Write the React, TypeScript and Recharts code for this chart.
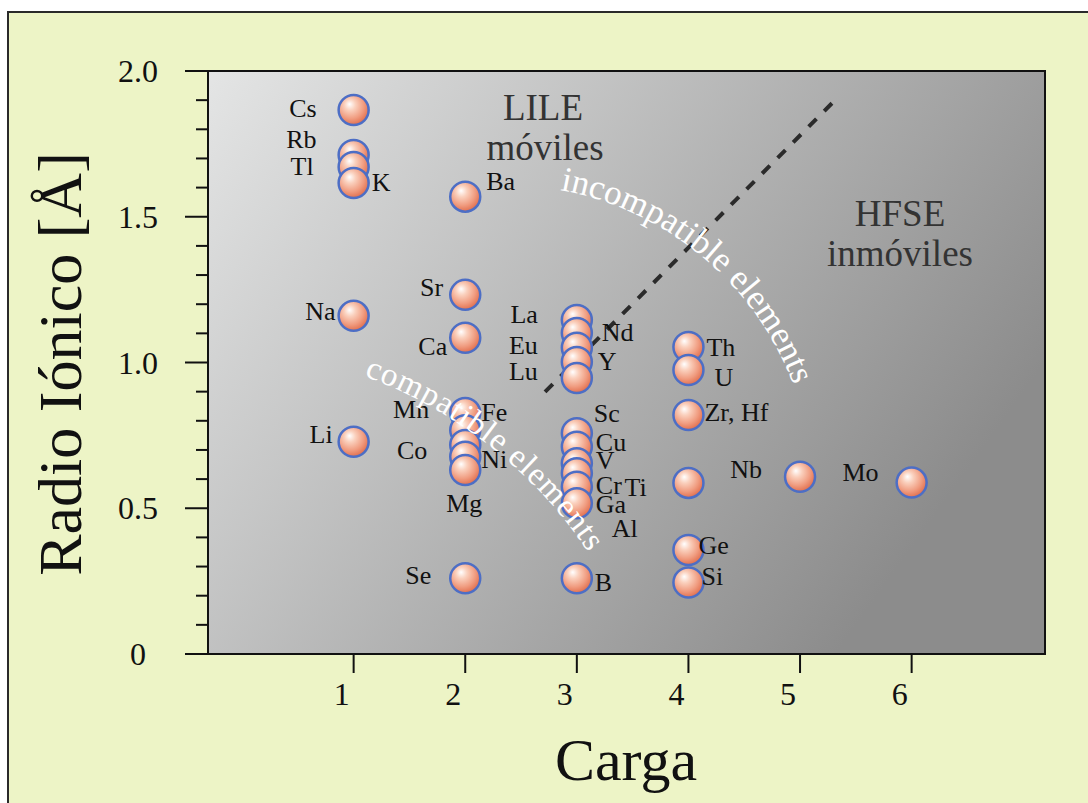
import React from "react";
import { ScatterChart, Scatter, XAxis, YAxis, ReferenceArea, ReferenceLine } from "recharts";

// element symbols, charge and ionic radius (Å)
const elements = [
  "Cs", "Rb", "Tl", "K", "Na", "Li",
  "Ba", "Sr", "Ca", "Mn", "Fe", "Co", "Ni", "Mg", "Se",
  "La", "Nd", "Eu", "Y", "Lu", "Sc", "Cu", "V", "Cr", "Ga", "Al", "B",
  "Th", "U", "Zr, Hf", "Ti", "Ge", "Si",
  "Nb", "Mo",
];
const charges = [
  1, 1, 1, 1, 1, 1,
  2, 2, 2, 2, 2, 2, 2, 2, 2,
  3, 3, 3, 3, 3, 3, 3, 3, 3, 3, 3, 3,
  4, 4, 4, 4, 4, 4,
  5, 6,
];
const radii = [
  1.866, 1.712, 1.671, 1.616, 1.16, 0.728,
  1.569, 1.232, 1.085, 0.827, 0.768, 0.717, 0.677, 0.631, 0.26,
  1.146, 1.101, 1.051, 1.002, 0.947, 0.757, 0.711, 0.654, 0.62, 0.574, 0.517, 0.26,
  1.053, 0.974, 0.82, 0.587, 0.357, 0.245,
  0.608, 0.588,
];

const xTicks = [1, 2, 3, 4, 5, 6];
const yTicks = [0, 0.1, 0.2, 0.3, 0.4, 0.5, 0.6, 0.7, 0.8, 0.9, 1, 1.1, 1.2, 1.3, 1.4, 1.5, 1.6, 1.7, 1.8, 1.9, 2];

// label placement next to each ball: [dx, dy, anchor]
const labelPos: Record<string, [number, number, string]> = {
  Cs: [-37, -2, "end"], Rb: [-37, -15, "end"], Tl: [-40, 0, "end"], K: [18, 0, "start"],
  Na: [-18, -4, "end"], Li: [-21, -7, "end"],
  Ba: [21, -15, "start"], Sr: [-22, -7, "end"], Ca: [-18, 9, "end"], Mn: [-36, -3, "end"],
  Fe: [16, -18, "start"], Co: [-38, 6, "end"], Ni: [16, 3, "start"], Mg: [-1, 33, "middle"],
  Se: [-34, -3, "end"],
  La: [-39, -5, "end"], Nd: [25, -1, "start"], Eu: [-39, -2, "end"], Y: [21, 0, "start"],
  Lu: [-39, -6, "end"], Sc: [17, -20, "start"], Cu: [19, -4, "start"], V: [19, -3, "start"],
  Cr: [19, 12, "start"], Ga: [19, 18, "start"], Al: [35, 25, "start"], B: [18, 4, "start"],
  Th: [18, 0, "start"], U: [26, 7, "start"], "Zr, Hf": [16, -2, "start"], Ti: [-64, 5, "start"],
  Ge: [10, -4, "start"], Si: [13, -6, "start"], Nb: [-38, -7, "end"], Mo: [-33, -10, "end"],
};

const data = elements.map((name, i) => ({ name, charge: charges[i], radius: radii[i] }));

const SERIF = "'Liberation Serif', 'Times New Roman', serif";
const X_DOMAIN: [number, number] = [-0.305, 7.195];

const Ball = (props: any) => {
  const { cx, cy } = props;
  if (cx == null || cy == null) return null;
  return <circle cx={cx} cy={cy} r={15} fill="url(#ballFill)" stroke="#4d6ec5" strokeWidth={2.5} />;
};

const BallLabel = (props: any) => {
  const { cx, cy, payload } = props;
  if (cx == null || cy == null) return null;
  const [dx, dy, anchor] = labelPos[payload.name] || [18, 0, "start"];
  return (
    <text x={cx + dx} y={cy + dy} textAnchor={anchor as any} dominantBaseline="central"
      fontFamily={SERIF} fontSize={26} fill="#111">
      {payload.name}
    </text>
  );
};

const YTick = (props: any) => {
  const { x, y, payload } = props;
  const v = payload.value;
  const major = Math.abs(v * 2 - Math.round(v * 2)) < 1e-6;
  return (
    <g>
      <line x1={x - (major ? 23 : 12)} y1={y} x2={x} y2={y} stroke="#111" strokeWidth={2} />
      {major && (
        <text x={x - 70} y={y} textAnchor="middle" dominantBaseline="central"
          fontFamily={SERIF} fontSize={32} fill="#111">
          {v === 0 ? "0" : v.toFixed(1)}
        </text>
      )}
    </g>
  );
};

const XTick = (props: any) => {
  const { x, y, payload } = props;
  return (
    <g>
      <line x1={x} y1={y} x2={x} y2={y + 19} stroke="#111" strokeWidth={2} />
      <text x={x - 12} y={y + 40} textAnchor="middle" dominantBaseline="central"
        fontFamily={SERIF} fontSize={32} fill="#111">
        {payload.value}
      </text>
    </g>
  );
};

// overlay: region names, curved captions and axis titles
const Annotations = () => (
  <svg width={1088} height={803} style={{ position: "absolute", left: 0, top: 0, pointerEvents: "none" }}>
    <defs>
      <path id="arcIncomp" d="M 560 190 A 310 310 0 0 1 796 392" />
      <path id="arcComp" d="M 364 376 A 460 460 0 0 1 592 558" />
    </defs>
    <text fontFamily={SERIF} fontSize={35} fill="#fff">
      <textPath href="#arcIncomp" textLength={318} lengthAdjust="spacing">incompatible elements</textPath>
    </text>
    <text fontFamily={SERIF} fontSize={33} fill="#fff">
      <textPath href="#arcComp" textLength={290} lengthAdjust="spacing">compatible elements</textPath>
    </text>
    <g fontFamily={SERIF} fontSize={37} fill="#333" textAnchor="middle">
      <text x={543} y={107} dominantBaseline="central">LILE</text>
      <text x={545} y={147} dominantBaseline="central">móviles</text>
      <text x={900} y={213} dominantBaseline="central">HFSE</text>
      <text x={900} y={253} dominantBaseline="central">inmóviles</text>
    </g>
    <text x={626} y={760} textAnchor="middle" dominantBaseline="central"
      fontFamily={SERIF} fontSize={60} fill="#111">Carga</text>
    <text x={60} y={364} textAnchor="middle" dominantBaseline="central"
      transform="rotate(-90 60 364)" fontFamily={SERIF} fontSize={62} fill="#111">
      Radio Iónico [Å]
    </text>
  </svg>
);

export default function App() {
  return (
    <div style={{ position: "fixed", left: 0, top: 0, width: 1088, height: 803, overflow: "hidden", background: "#fff" }}>
      <div style={{
        position: "absolute", left: 7, top: 11, width: 1200, height: 900,
        background: "#edf4c6", borderLeft: "2px solid #2a2a2a", borderTop: "2px solid #2a2a2a",
      }} />
      <svg width={0} height={0} style={{ position: "absolute" }}>
        <defs>
          <linearGradient id="plotBg" x1="0" y1="0" x2="1" y2="0.5">
            <stop offset="0" stopColor="#e4e5e5" />
            <stop offset="1" stopColor="#8c8c8c" />
          </linearGradient>
          <radialGradient id="ballFill" cx="0.42" cy="0.38" r="0.62" fx="0.36" fy="0.3">
            <stop offset="0" stopColor="#ffffff" />
            <stop offset="0.3" stopColor="#fad0bd" />
            <stop offset="0.7" stopColor="#f09c80" />
            <stop offset="1" stopColor="#e2704f" />
          </radialGradient>
        </defs>
      </svg>
      <div style={{ position: "absolute", left: 0, top: 0 }}>
        <ScatterChart width={1088} height={803} margin={{ top: 71, right: 43, bottom: 0, left: 0 }}>
          <ReferenceArea x1={X_DOMAIN[0]} x2={X_DOMAIN[1]} y1={0} y2={2}
            fill="url(#plotBg)" fillOpacity={1} stroke="#111" strokeWidth={2} />
          <XAxis type="number" dataKey="charge" domain={X_DOMAIN} allowDataOverflow ticks={xTicks}
            height={149} axisLine={false} tickLine={false} tickSize={0} tickMargin={0}
            tick={<XTick />} interval={0} />
          <YAxis type="number" dataKey="radius" domain={[0, 2]} allowDataOverflow ticks={yTicks}
            width={208} axisLine={false} tickLine={false} tickSize={0} tickMargin={0}
            tick={<YTick />} interval={0} />
          <ReferenceLine segment={[{ x: 2.715, y: 0.899 }, { x: 5.332, y: 1.907 }]}
            stroke="#2b2b2b" strokeWidth={4} strokeDasharray="11 11" />
          <Scatter data={data} shape={<Ball />} isAnimationActive={false} />
          <Scatter data={data} shape={<BallLabel />} isAnimationActive={false} />
        </ScatterChart>
      </div>
      <Annotations />
    </div>
  );
}
